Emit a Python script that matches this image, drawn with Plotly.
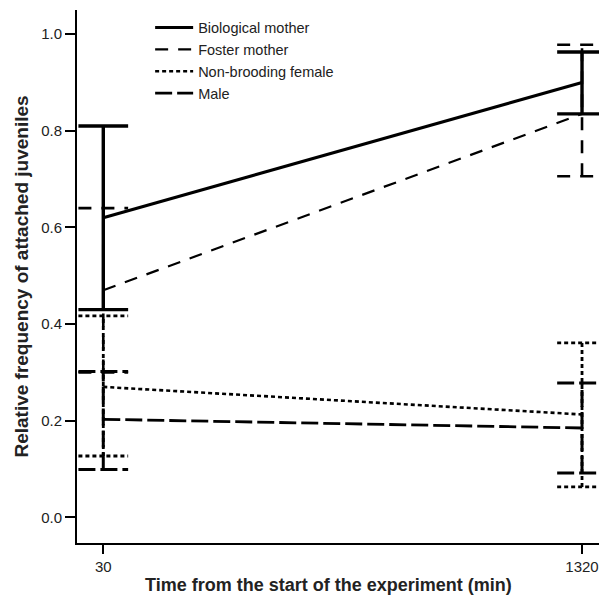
import plotly.graph_objects as go

# ---- data ----
times = [30, 1320]
tick_labels = ["30", "1320"]

series_names = ["Biological mother", "Foster mother", "Non-brooding female", "Male"]

bio_mean = [0.62, 0.90]
bio_lo = [0.43, 0.835]
bio_hi = [0.81, 0.963]

foster_mean = [0.47, 0.835]
foster_lo = [0.30, 0.706]
foster_hi = [0.64, 0.978]

nonbrood_mean = [0.27, 0.213]
nonbrood_lo = [0.127, 0.063]
nonbrood_hi = [0.417, 0.361]

male_mean = [0.203, 0.185]
male_lo = [0.099, 0.092]
male_hi = [0.302, 0.278]

y_ticks = [0.0, 0.2, 0.4, 0.6, 0.8, 1.0]
y_tick_labels = ["0.0", "0.2", "0.4", "0.6", "0.8", "1.0"]

x_title = "Time from the start of the experiment (min)"
y_title = "Relative frequency of attached juveniles"

# ---- styles ----
styles = [
    dict(dash="solid", width=3.2, ewidth=3.4),
    dict(dash="13px,10px", width=2.2, ewidth=2.6),
    dict(dash="4px,3px", width=2.6, ewidth=2.8),
    dict(dash="17px,5px", width=2.8, ewidth=3.0),
]
CAP_HALF = 67  # cap half-width in x data units

means = [bio_mean, foster_mean, nonbrood_mean, male_mean]
los = [bio_lo, foster_lo, nonbrood_lo, male_lo]
his = [bio_hi, foster_hi, nonbrood_hi, male_hi]

fig = go.Figure()

# error bars (drawn below the mean lines), with dash style of each series
for name, lo, hi, st in reversed(list(zip(series_names, los, his, styles))):
    ex, ey = [], []
    for t, l, h in zip(times, lo, hi):
        ex += [t, t, None, t - CAP_HALF, t + CAP_HALF, None, t - CAP_HALF, t + CAP_HALF, None]
        ey += [l, h, None, l, l, None, h, h, None]
    fig.add_trace(go.Scatter(
        x=ex, y=ey, mode="lines", showlegend=False, hoverinfo="skip",
        line=dict(color="black", width=st["ewidth"], dash=st["dash"]),
        cliponaxis=False,
    ))

for name, m, st in zip(series_names, means, styles):
    fig.add_trace(go.Scatter(
        x=times, y=m, mode="lines", name=name,
        line=dict(color="black", width=st["width"], dash=st["dash"]),
        cliponaxis=False,
    ))

fig.update_layout(
    width=599, height=589,
    margin=dict(l=69, r=0, t=2, b=54),
    paper_bgcolor="white", plot_bgcolor="white",
    font=dict(family="Liberation Sans, Arial, sans-serif", color="#222", size=15),
    legend=dict(
        x=0.138, y=0.997, xanchor="left", yanchor="top",
        bgcolor="rgba(0,0,0,0)", font=dict(size=14.5, color="#222"),
        tracegroupgap=0, itemwidth=38,
    ),
    showlegend=True,
    annotations=[dict(
        text="<b>" + x_title + "</b>", xref="paper", yref="paper",
        x=0.475, y=-0.079, xanchor="center", yanchor="middle", showarrow=False,
        font=dict(size=18, color="#222"),
    )],
)

fig.update_xaxes(
    range=[-40.8, 1387.3],
    tickvals=times, ticktext=tick_labels,
    showgrid=False, zeroline=False,
    showline=True, linecolor="black", linewidth=2,
    ticks="outside", ticklen=9, tickwidth=2, tickcolor="black",
    tickfont=dict(size=15, color="#222"),
)
fig.update_yaxes(
    range=[-0.053, 1.05],
    tickvals=y_ticks, ticktext=y_tick_labels,
    showgrid=False, zeroline=False,
    showline=True, linecolor="black", linewidth=2,
    ticks="outside", ticklen=10, tickwidth=2, tickcolor="black",
    tickfont=dict(size=15, color="#222"),
    title=dict(text="<b>" + y_title + "</b>",
               font=dict(size=19, color="#222"), standoff=7),
)

fig.write_html("out.html")
